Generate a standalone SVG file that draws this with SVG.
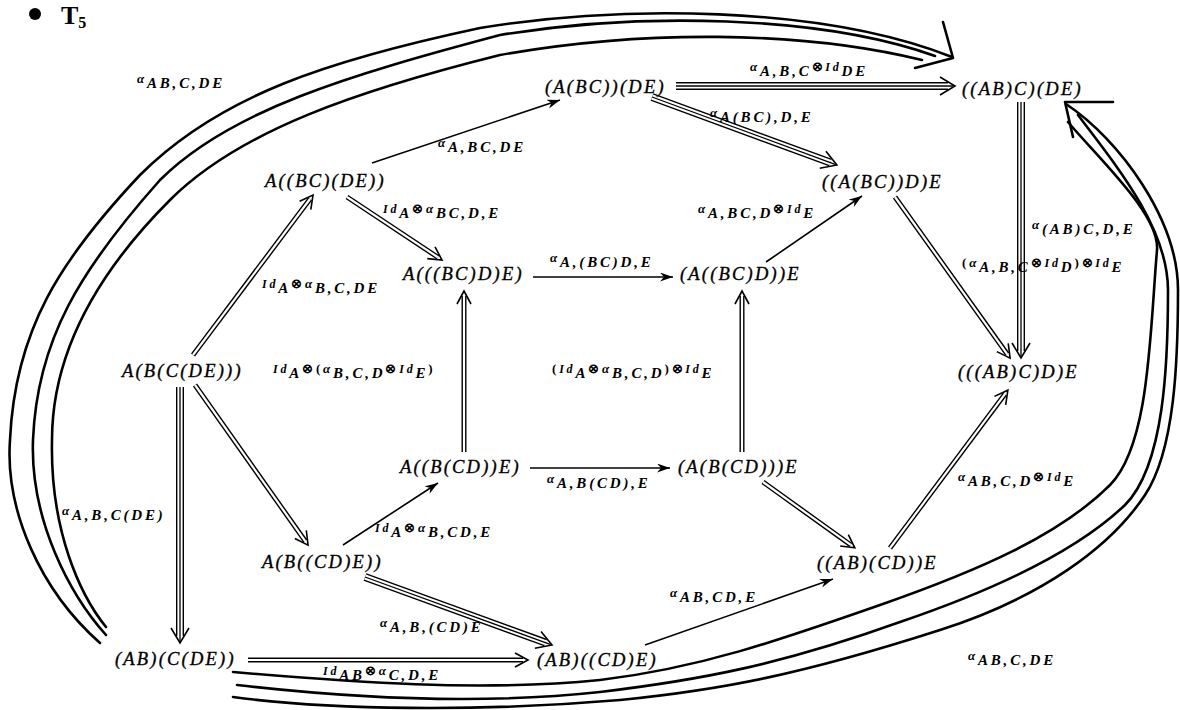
<svg xmlns="http://www.w3.org/2000/svg" width="1180" height="710" viewBox="0 0 1180 710">
<defs>
<style>
.nd{font-family:"Liberation Serif",serif;font-style:italic;font-size:18.5px;letter-spacing:2.2px;fill:#000;stroke:#000;stroke-width:0.35}
.lb{font-family:"Liberation Serif",serif;font-style:italic;font-weight:bold;font-size:15px;letter-spacing:2.8px;fill:#000}
.g{font-size:13px}
.i{font-size:12px}
.o{font-size:13px;font-style:normal}
.s{stroke:#000;stroke-width:1.6}
.db{stroke:#000;stroke-width:5}
.dw{stroke:#fff;stroke-width:2.2}
.tb{stroke:#000;stroke-width:8}
.tw{stroke:#fff;stroke-width:5.2}
.tc{stroke:#000;stroke-width:1.3}
.hd{fill:none;stroke:#000;stroke-width:1.6}
.bc{fill:none;stroke:#000;stroke-width:2.6;stroke-linecap:round;stroke-linejoin:round}
</style>
<marker id="ah" markerWidth="14" markerHeight="10" refX="13" refY="4.5" orient="auto" markerUnits="userSpaceOnUse">
<path d="M0,0 L13,4.5 L0,9 L4,4.5z" fill="#000"/>
</marker>
</defs>
<rect width="1180" height="710" fill="#fff"/>

<g id="title">
<circle cx="35" cy="14" r="6" fill="#000"/>
<text x="61" y="24" font-family="Liberation Serif,serif" font-weight="bold" font-size="26">T<tspan font-size="16" y="28">5</tspan></text>
</g>

<g id="connectors">
<path class="bc" d="M100,643 C40,590 5,510 10,440 C15,330 60,260 140,175 C220,95 330,60 480,28 C620,5 820,5 952,57"/>
<path class="bc" d="M106,635 C70,595 30,520 33,440 C37,340 80,270 160,180 C230,110 350,75 500,35 C640,12 820,15 935,56"/>
<path class="bc" d="M106,627 C80,595 50,530 52,440 C52,370 80,290 170,200 C240,130 360,90 500,55 C640,30 800,30 922,60"/>
<polyline class="bc" points="943,22 953,58 915,68"/>
<path class="bc" d="M233,672 C350,682 480,692 600,680 C700,668 780,640 880,605 C980,570 1060,535 1110,485 C1150,445 1150,330 1157,250 C1160,215 1100,160 1068,122"/>
<path class="bc" d="M237,685 C350,698 480,705 600,692 C700,680 780,665 900,622 C1000,588 1080,548 1125,505 C1165,465 1168,360 1168,290 C1168,230 1120,170 1078,115"/>
<path class="bc" d="M233,697 C330,710 480,712 620,700 C720,690 800,675 940,630 C1040,598 1110,548 1145,495 C1175,450 1178,360 1178,290 C1178,220 1120,140 1066,104"/>
<polyline class="bc" points="1113,102 1065,102 1073,137"/>

<line class="s" x1="372" y1="163" x2="560" y2="100" marker-end="url(#ah)"/>
<line class="s" x1="533" y1="277" x2="673" y2="277" marker-end="url(#ah)"/>
<line class="s" x1="766" y1="262" x2="862" y2="196" marker-end="url(#ah)"/>
<line class="s" x1="530" y1="468" x2="670" y2="468" marker-end="url(#ah)"/>
<line class="s" x1="343" y1="545" x2="438" y2="483" marker-end="url(#ah)"/>
<line class="s" x1="645" y1="645" x2="833" y2="579" marker-end="url(#ah)"/>

<g transform="translate(193,355) rotate(-53.13)"><line class="db" x2="195"/><line class="dw" x2="195"/><polyline class="hd" points="187,-7 200,0 187,7"/></g>
<g transform="translate(347,197) rotate(33.55)"><line class="db" x2="109"/><line class="dw" x2="109"/><polyline class="hd" points="101,-7 114,0 101,7"/></g>
<g transform="translate(464,452) rotate(-90)"><line class="db" x2="156"/><line class="dw" x2="156"/><polyline class="hd" points="148,-7 161,0 148,7"/></g>
<g transform="translate(742,452) rotate(-90)"><line class="db" x2="156"/><line class="dw" x2="156"/><polyline class="hd" points="148,-7 161,0 148,7"/></g>
<g transform="translate(195,385) rotate(54.77)"><line class="db" x2="191"/><line class="dw" x2="191"/><polyline class="hd" points="183,-7 196,0 183,7"/></g>
<g transform="translate(248,660)"><line class="db" x2="275"/><line class="dw" x2="275"/><polyline class="hd" points="267,-7 280,0 267,7"/></g>
<g transform="translate(763,482) rotate(35.66)"><line class="db" x2="108"/><line class="dw" x2="108"/><polyline class="hd" points="100,-7 113,0 100,7"/></g>
<g transform="translate(890,548) rotate(-53.25)"><line class="db" x2="192"/><line class="dw" x2="192"/><polyline class="hd" points="184,-7 197,0 184,7"/></g>
<g transform="translate(895,197) rotate(54.46)"><line class="db" x2="193"/><line class="dw" x2="193"/><polyline class="hd" points="185,-7 198,0 185,7"/></g>

<g transform="translate(180,387) rotate(90)"><line class="tb" x2="249"/><line class="tw" x2="249"/><line class="tc" x2="254"/><polyline class="hd" points="241,-9 256,0 241,9"/></g>
<g transform="translate(365,577) rotate(19.98)"><line class="tb" x2="192"/><line class="tw" x2="192"/><line class="tc" x2="197"/><polyline class="hd" points="184,-9 199,0 184,9"/></g>
<g transform="translate(1021,102) rotate(90)"><line class="tb" x2="249"/><line class="tw" x2="249"/><line class="tc" x2="254"/><polyline class="hd" points="241,-9 256,0 241,9"/></g>
<g transform="translate(676,86)"><line class="tb" x2="272"/><line class="tw" x2="272"/><line class="tc" x2="277"/><polyline class="hd" points="264,-9 279,0 264,9"/></g>
<g transform="translate(652,97) rotate(20.18)"><line class="tb" x2="190"/><line class="tw" x2="190"/><line class="tc" x2="195"/><polyline class="hd" points="182,-9 197,0 182,9"/></g>
</g>

<g id="labels">
<text class="lb" x="137"><tspan class="g" y="83">α</tspan><tspan y="88">AB,C,DE</tspan></text>
<text class="lb" x="750"><tspan class="g" y="71">α</tspan><tspan y="76">A,B,C</tspan><tspan class="o" y="71">⊗</tspan><tspan class="i" y="71">Id</tspan><tspan y="76">DE</tspan></text>
<text class="lb" x="710"><tspan class="g" y="117">α</tspan><tspan y="122">A(BC),D,E</tspan></text>
<text class="lb" x="438"><tspan class="g" y="147">α</tspan><tspan y="152">A,BC,DE</tspan></text>
<text class="lb" x="383"><tspan class="i" y="213">Id</tspan><tspan y="218">A</tspan><tspan class="o" y="213">⊗</tspan><tspan class="g" y="213">α</tspan><tspan y="218">BC,D,E</tspan></text>
<text class="lb" x="550"><tspan class="g" y="262">α</tspan><tspan y="267">A,(BC)D,E</tspan></text>
<text class="lb" x="698"><tspan class="g" y="213">α</tspan><tspan y="218">A,BC,D</tspan><tspan class="o" y="213">⊗</tspan><tspan class="i" y="213">Id</tspan><tspan y="218">E</tspan></text>
<text class="lb" x="262"><tspan class="i" y="288">Id</tspan><tspan y="293">A</tspan><tspan class="o" y="288">⊗</tspan><tspan class="g" y="288">α</tspan><tspan y="293">B,C,DE</tspan></text>
<text class="lb" x="273"><tspan class="i" y="373">Id</tspan><tspan y="378">A</tspan><tspan class="o" y="373">⊗(</tspan><tspan class="g" y="373">α</tspan><tspan y="378">B,C,D</tspan><tspan class="o" y="373">⊗</tspan><tspan class="i" y="373">Id</tspan><tspan y="378">E</tspan><tspan class="o" y="373">)</tspan></text>
<text class="lb" x="552"><tspan class="o" y="373">(</tspan><tspan class="i" y="373">Id</tspan><tspan y="378">A</tspan><tspan class="o" y="373">⊗</tspan><tspan class="g" y="373">α</tspan><tspan y="378">B,C,D</tspan><tspan class="o" y="373">)⊗</tspan><tspan class="i" y="373">Id</tspan><tspan y="378">E</tspan></text>
<text class="lb" x="1032"><tspan class="g" y="229">α</tspan><tspan y="234">(AB)C,D,E</tspan></text>
<text class="lb" x="962"><tspan class="o" y="267">(</tspan><tspan class="g" y="267">α</tspan><tspan y="272">A,B,C</tspan><tspan class="o" y="267">⊗</tspan><tspan class="i" y="267">Id</tspan><tspan y="272">D</tspan><tspan class="o" y="267">)⊗</tspan><tspan class="i" y="267">Id</tspan><tspan y="272">E</tspan></text>
<text class="lb" x="958"><tspan class="g" y="481">α</tspan><tspan y="486">AB,C,D</tspan><tspan class="o" y="481">⊗</tspan><tspan class="i" y="481">Id</tspan><tspan y="486">E</tspan></text>
<text class="lb" x="547"><tspan class="g" y="483">α</tspan><tspan y="488">A,B(CD),E</tspan></text>
<text class="lb" x="375"><tspan class="i" y="532">Id</tspan><tspan y="537">A</tspan><tspan class="o" y="532">⊗</tspan><tspan class="g" y="532">α</tspan><tspan y="537">B,CD,E</tspan></text>
<text class="lb" x="380"><tspan class="g" y="627">α</tspan><tspan y="632">A,B,(CD)E</tspan></text>
<text class="lb" x="323"><tspan class="i" y="675">Id</tspan><tspan y="680">AB</tspan><tspan class="o" y="675">⊗</tspan><tspan class="g" y="675">α</tspan><tspan y="680">C,D,E</tspan></text>
<text class="lb" x="670"><tspan class="g" y="597">α</tspan><tspan y="602">AB,CD,E</tspan></text>
<text class="lb" x="62"><tspan class="g" y="515">α</tspan><tspan y="520">A,B,C(DE)</tspan></text>
<text class="lb" x="968"><tspan class="g" y="660">α</tspan><tspan y="665">AB,C,DE</tspan></text>
</g>

<g id="n1"><text class="nd" x="545" y="93">(A(BC))(DE)</text></g>
<g id="n2"><text class="nd" x="962" y="95">((AB)C)(DE)</text></g>
<g id="n3"><text class="nd" x="265" y="187">A((BC)(DE))</text></g>
<g id="n4"><text class="nd" x="822" y="188">((A(BC))D)E</text></g>
<g id="n5"><text class="nd" x="403" y="280">A(((BC)D)E)</text></g>
<g id="n6"><text class="nd" x="680" y="280">(A((BC)D))E</text></g>
<g id="n7"><text class="nd" x="122" y="377">A(B(C(DE)))</text></g>
<g id="n8"><text class="nd" x="958" y="378">(((AB)C)D)E</text></g>
<g id="n9"><text class="nd" x="400" y="473">A((B(CD))E)</text></g>
<g id="n10"><text class="nd" x="678" y="473">(A(B(CD)))E</text></g>
<g id="n11"><text class="nd" x="262" y="568">A(B((CD)E))</text></g>
<g id="n12"><text class="nd" x="817" y="569">((AB)(CD))E</text></g>
<g id="n13"><text class="nd" x="115" y="665">(AB)(C(DE))</text></g>
<g id="n14"><text class="nd" x="537" y="666">(AB)((CD)E)</text></g>
</svg>
